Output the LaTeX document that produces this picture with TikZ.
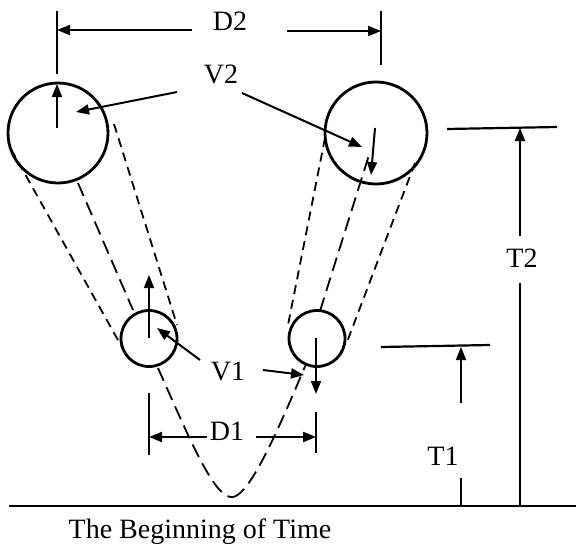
\documentclass[tikz,border=0pt]{standalone}
\usepackage{fontspec}
\setmainfont{Liberation Serif}
\usetikzlibrary{arrows.meta}
\begin{document}
\begin{tikzpicture}[x=1pt,y=-1pt,
  ball/.style={circle,draw,line width=2.8pt,inner sep=0pt,outer sep=0pt},
  lbl/.style={inner sep=0pt,font=\fontsize{28}{30}\selectfont},
  thin/.style={line width=2pt},
  arr/.style={line width=2pt,-{Triangle[length=13pt,width=10pt]}},
  dashA/.style={line width=1.8pt,dash pattern=on 9pt off 6pt},
  dashB/.style={line width=1.8pt,dash pattern=on 14pt off 7pt}]
\useasboundingbox (0,0) rectangle (576,555);
% circles
\node[ball,minimum size=100pt] (bigL) at (58,133) {};
\node[ball,minimum size=102pt] (bigR) at (376,133) {};
\node[ball,minimum size=56pt] (smL) at (149,338.5) {};
\node[ball,minimum size=56pt] (smR) at (317,338.5) {};
% labels
\node[lbl] (D2) at (230,21) {D2};
\node[lbl] (V2) at (221,74) {V2};
\node[lbl] (V1) at (228,371) {V1};
\node[lbl] (D1) at (227,431) {D1};
\node[lbl] (T1) at (443,456) {T1};
\node[lbl] (T2) at (522,258) {T2};
\node[lbl] (title) at (200,532) {The Beginning of Time};
% coordinates
\coordinate (gL) at (9,506);
\coordinate (gR) at (576,506);
\coordinate (d2lt) at (57,11);  \coordinate (d2lb) at (57,74);
\coordinate (d2rt) at (381,11); \coordinate (d2rb) at (381,65);
\coordinate (d2la) at (192,30); \coordinate (d2lh) at (57,30);
\coordinate (d2ra) at (287,31); \coordinate (d2rh) at (381,31);
\coordinate (v2la) at (177,92); \coordinate (v2lh) at (76,112);
\coordinate (v2ra) at (242,93); \coordinate (v2rh) at (362,147);
\coordinate (vbLa) at (57,128); \coordinate (vbLh) at (57,84);
\coordinate (vbRa) at (375,128); \coordinate (vbRh) at (371,175);
\coordinate (vsLa) at (149,338); \coordinate (vsLh) at (149,275);
\coordinate (vsRa) at (316,338); \coordinate (vsRh) at (316,394);
\coordinate (v1la) at (200,360); \coordinate (v1lh) at (157,328);
\coordinate (v1ra) at (263,370); \coordinate (v1rh) at (304,375);
\coordinate (t2a) at (447,129); \coordinate (t2b) at (557,127);
\coordinate (t2s) at (520,236); \coordinate (t2h) at (520,128);
\coordinate (t2l) at (520,283); \coordinate (t2g) at (520,506);
\coordinate (t1a) at (381,347); \coordinate (t1b) at (490,345);
\coordinate (t1s) at (461,403); \coordinate (t1h) at (461,347);
\coordinate (t1l) at (461,478); \coordinate (t1g) at (461,506);
\coordinate (d1lt) at (149,393); \coordinate (d1lb) at (149,455);
\coordinate (d1rt) at (316,412); \coordinate (d1rb) at (316,453);
\coordinate (d1la) at (207,437); \coordinate (d1lh) at (149,437);
\coordinate (d1ra) at (256,437); \coordinate (d1rh) at (316,437);
% dashed paths
\coordinate (pL1a) at (11,149);  \coordinate (pL1b) at (123,349);
\coordinate (pL2a) at (114,124); \coordinate (pL2b) at (177,325);
\coordinate (pR1a) at (325,138); \coordinate (pR1b) at (288,325);
\coordinate (pR2a) at (415,163); \coordinate (pR2b) at (347,342);
\coordinate (mLa) at (78,183);   \coordinate (mLb) at (133,310);
\coordinate (mRa) at (320,311);  \coordinate (mRb) at (369,155);
\coordinate (cA) at (158,368);   \coordinate (cM) at (233,497);
\coordinate (cB) at (306,364);
% ground
\draw[line width=2.8pt] (gL) -- (gR);
% D2
\draw[thin] (d2lt) -- (d2lb);
\draw[thin] (d2rt) -- (d2rb);
\draw[arr] (d2la) -- (d2lh);
\draw[arr] (d2ra) -- (d2rh);
% V2
\draw[arr] (v2la) -- (v2lh);
\draw[arr] (v2ra) -- (v2rh);
\draw[arr] (vbLa) -- (vbLh);
\draw[arr] (vbRa) -- (vbRh);
% V1
\draw[arr] (vsLa) -- (vsLh);
\draw[arr] (vsRa) -- (vsRh);
\draw[arr] (v1la) -- (v1lh);
\draw[arr] (v1ra) -- (v1rh);
% T2
\draw[line width=2.2pt] (t2a) -- (t2b);
\draw[arr] (t2s) -- (t2h);
\draw[thin] (t2l) -- (t2g);
% T1
\draw[line width=2.2pt] (t1a) -- (t1b);
\draw[arr] (t1s) -- (t1h);
\draw[thin] (t1l) -- (t1g);
% D1
\draw[line width=2.2pt] (d1lt) -- (d1lb);
\draw[line width=2.2pt] (d1rt) -- (d1rb);
\draw[arr] (d1la) -- (d1lh);
\draw[arr] (d1ra) -- (d1rh);
% dashed
\draw[dashA] (pL1a) -- (pL1b);
\draw[dashA] (pL2a) -- (pL2b);
\draw[dashA] (pR1a) -- (pR1b);
\draw[dashA] (pR2a) -- (pR2b);
\draw[dashB] (mLa) -- (mLb);
\draw[dashB] (mRa) -- (mRb);
\draw[dashB] (cA) .. controls (190,440) and (215,500) .. (cM);
\draw[dashB] (cM) .. controls (248,494) and (270,450) .. (cB);
\end{tikzpicture}
\end{document}
